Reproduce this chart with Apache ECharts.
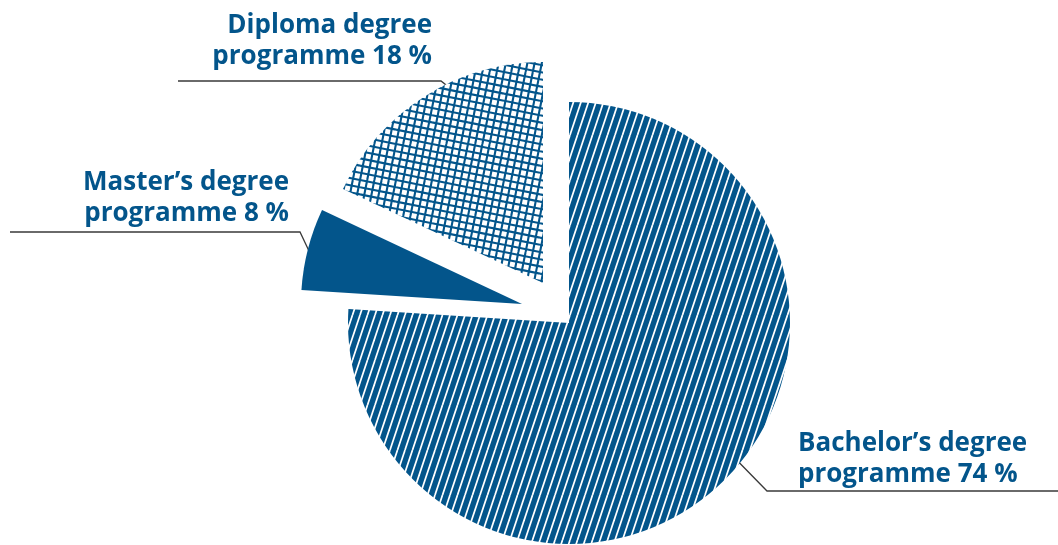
<!DOCTYPE html>
<html><head><meta charset="utf-8">
<script src="https://cdn.jsdelivr.net/npm/echarts@6/dist/echarts.min.js"></script>
<style>html,body{margin:0;padding:0;background:#fff}#c{width:1058px;height:545px}</style>
</head><body><div id="c"></div>
<script>
// ---- data ----
const categories = ["Bachelor’s degree programme", "Master’s degree programme", "Diploma degree programme"];
const labelFirstLines = ["Bachelor’s degree", "Master’s degree", "Diploma degree"];
const labelSecondLines = ["programme", "programme", "programme"];
const printedPercents = [74, 8, 18];     // percentages printed in the labels
const sliceShares = [76, 6, 18];         // shares as drawn by the slice angles

// ---- layout / style ----
const BLUE = '#03558b';
const sliceCenters = [[569, 323], [522, 304], [543, 283]];
const RADIUS = 221;
const labelAnchors = [
  {x: 798, y: 490, align: 'left',  line: [[723, 446], [767, 491], [1058, 491]]},
  {x: 289, y: 229, align: 'right', line: [[309, 251], [300, 232], [10, 232]]},
  {x: 432, y: 72,  align: 'right', line: [[460, 96], [441, 81], [178, 81]]}
];

// seamless tile of slanted stripes ("/" leaning, slope 1:3)
function stripePattern() {
  const W = 15, H = 45;
  const c = document.createElement('canvas'); c.width = W; c.height = H;
  const g = c.getContext('2d');
  g.fillStyle = BLUE; g.fillRect(0, 0, W, H);
  g.strokeStyle = '#ffffff'; g.lineWidth = 1.7;
  for (let x0 = -45; x0 <= 45; x0 += 7.5) {
    g.beginPath(); g.moveTo(x0, H); g.lineTo(x0 + W, 0); g.stroke();
  }
  return {image: c, repeat: 'repeat'};
}
// seamless tile of a slightly rotated square grid (slope 1:5)
function gridPattern() {
  const S = 36, step = S / 5;
  const c = document.createElement('canvas'); c.width = S; c.height = S;
  const g = c.getContext('2d');
  g.fillStyle = '#ffffff'; g.fillRect(0, 0, S, S);
  g.strokeStyle = BLUE; g.lineWidth = 2.1;
  for (let k = -12; k <= 12; k++) {
    const o = k * step;
    g.beginPath(); g.moveTo(o, S); g.lineTo(o + step, 0); g.stroke();      // near-vertical
    g.beginPath(); g.moveTo(0, o); g.lineTo(S, o + step); g.stroke();      // near-horizontal
  }
  return {image: c, repeat: 'repeat'};
}
const fills = [stripePattern(), BLUE, gridPattern()];

function buildSeries(own) {
  return {
    type: 'pie',
    center: sliceCenters[own],
    radius: RADIUS,
    startAngle: 90,
    clockwise: true,
    silent: true,
    animation: false,
    avoidLabelOverlap: false,
    emphasis: {disabled: true, scale: false},
    data: categories.map((name, i) => ({
      name: name,
      value: sliceShares[i],
      itemStyle: {color: i === own ? fills[i] : 'rgba(0,0,0,0)', borderWidth: 0},
      label: {show: i === own},
      labelLine: {show: i === own}
    })),
    label: {
      position: 'outside',
      color: BLUE,
      fontFamily: 'Open Sans',
      fontWeight: 'bold',
      fontSize: 26,
      lineHeight: 31,
      formatter: (p) => labelFirstLines[p.dataIndex] + '\n' + labelSecondLines[p.dataIndex] + ' ' + printedPercents[p.dataIndex] + ' %'
    },
    labelLine: {show: true, lineStyle: {color: '#3a3a3a', width: 1.3}},
    labelLayout: (params) => {
      const a = labelAnchors[params.dataIndex];
      return {x: a.x, y: a.y, align: a.align, verticalAlign: 'bottom', labelLinePoints: a.line};
    }
  };
}

const chart = echarts.init(document.getElementById('c'), null, {renderer: 'canvas'});
chart.setOption({
  animation: false,
  backgroundColor: '#ffffff',
  series: [buildSeries(0), buildSeries(1), buildSeries(2)]
});
</script>
</body></html>
